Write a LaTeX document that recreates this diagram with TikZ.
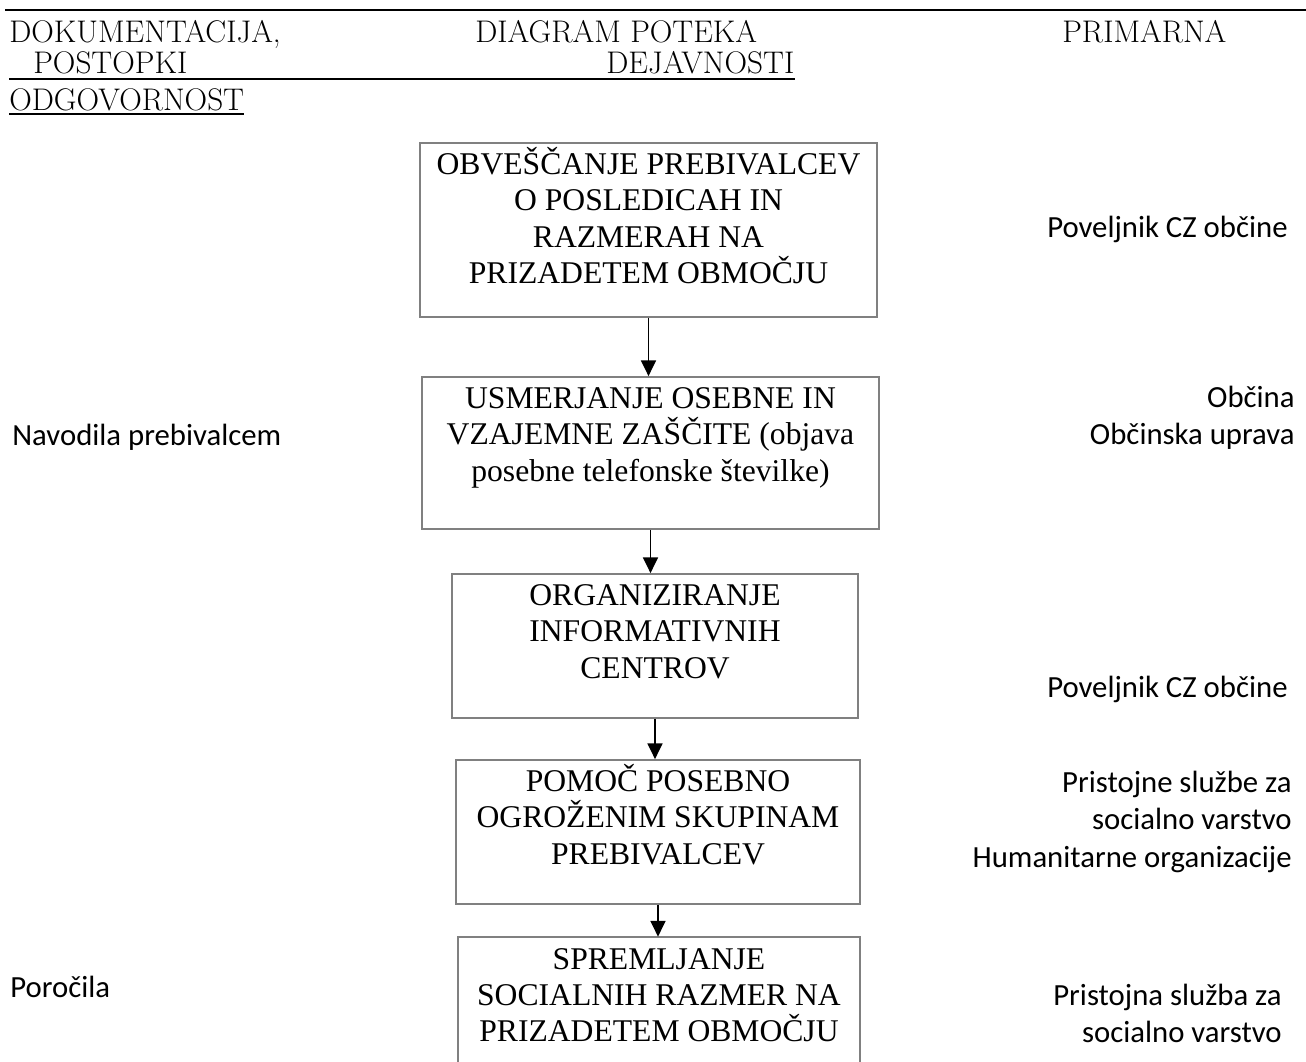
\documentclass[tikz,border=0pt]{standalone}
\usepackage{fontspec}
\newfontfamily\boxfont{Liberation Serif}
\newfontfamily\sidefont{Carlito}
\usetikzlibrary{arrows.meta}
\definecolor{boxgray}{gray}{0.5}
\newcommand\topstrut{\rule{0pt}{17pt}}

\begin{document}
\begin{tikzpicture}[x=0.02cm, y=-0.02cm,
    hdr/.style={inner sep=0, anchor=base west, font=\fontsize{17.8}{21}\selectfont},
    stepbox/.style={draw=boxgray, line width=1pt, inner sep=0},
    boxtext/.style={anchor=north, inner sep=0, align=center, font=\boxfont\fontsize{18}{20.7}\selectfont},
    side/.style={inner sep=0, align=right, anchor=north east, font=\sidefont\fontsize{17.5}{21.3}\selectfont},
    sidel/.style={inner sep=0, anchor=base west, font=\sidefont\fontsize{17.5}{21.3}\selectfont},
    arr/.style={line width=1.1pt, -{Triangle[width=8.5pt,length=9pt]}}]
  \useasboundingbox (0,0) rectangle (1306,1062);

  % header
  \node[hdr] (dok) at (9,42) {DOKUMENTACIJA,};
  \node[hdr] (pos) at (33,73) {POSTOPKI};
  \node[hdr] (odg) at (9,110) {ODGOVORNOST};
  \node[hdr] (dia) at (475,42) {DIAGRAM POTEKA};
  \node[hdr] (dej) at (606,73) {DEJAVNOSTI};
  \node[hdr] (pri) at (1062,42) {PRIMARNA};
  \draw[line width=1.5pt] (5,10) -- (1306,10);
  \draw[line width=1pt] (9,79) -- (dej.base east |- 9,79);
  \draw[line width=1pt] ([yshift=-2.3pt]odg.base west) -- ([yshift=-2.3pt]odg.base east);

  % flow boxes
  \node[stepbox, minimum width=9.14cm, minimum height=3.48cm] (b1) at (648.5,230) {};
  \node[boxtext] (t1) at ([yshift=-1.2pt]b1.north)
    {\topstrut OBVEŠČANJE PREBIVALCEV\\O POSLEDICAH IN\\RAZMERAH NA\\PRIZADETEM OBMOČJU};
  \node[stepbox, minimum width=9.14cm, minimum height=3.04cm] (b2) at (650.5,453) {};
  \node[boxtext] (t2) at ([yshift=-1.2pt]b2.north)
    {\topstrut USMERJANJE OSEBNE IN\\VZAJEMNE ZAŠČITE (objava\\posebne telefonske številke)};
  \node[stepbox, minimum width=8.12cm, minimum height=2.88cm] (b3) at (655,646) {};
  \node[boxtext] (t3) at ([yshift=-1.2pt]b3.north)
    {\topstrut ORGANIZIRANJE\\INFORMATIVNIH\\CENTROV};
  \node[stepbox, minimum width=8.08cm, minimum height=2.88cm] (b4) at (658,832) {};
  \node[boxtext] (t4) at ([yshift=-1.2pt]b4.north)
    {\topstrut POMOČ POSEBNO\\OGROŽENIM SKUPINAM\\PREBIVALCEV};
  \node[inner sep=0, minimum width=8.04cm, minimum height=2.76cm] (b5) at (659,1006) {};
  \draw[draw=boxgray, line width=1pt] (b5.south west) -- (b5.north west) -- (b5.north east) -- (b5.south east);
  \node[boxtext] (t5) at ([yshift=-1.2pt]b5.north)
    {\topstrut SPREMLJANJE\\SOCIALNIH RAZMER NA\\PRIZADETEM OBMOČJU};

  \foreach \a/\b in {b1/b2,b2/b3,b3/b4,b4/b5}
    \draw[arr] (\a.south) -- (\a.south |- \b.north);

  % documents
  \node[sidel] (nav) at (12,445) {Navodila prebivalcem};
  \node[sidel] (por) at (10,997) {Poročila};

  % responsibility
  \node[side] (r1) at (1288,207) {\topstrut Poveljnik CZ občine};
  \node[side] (r2) at (1295,377) {\topstrut Občina\\Občinska uprava};
  \node[side] (r3) at (1288,667) {\topstrut Poveljnik CZ občine};
  \node[side] (r4) at (1292,762) {\topstrut Pristojne službe za\\socialno varstvo\\Humanitarne organizacije};
  \node[side] (r5) at (1282,975) {\topstrut Pristojna služba za\\socialno varstvo};
\end{tikzpicture}
\end{document}
